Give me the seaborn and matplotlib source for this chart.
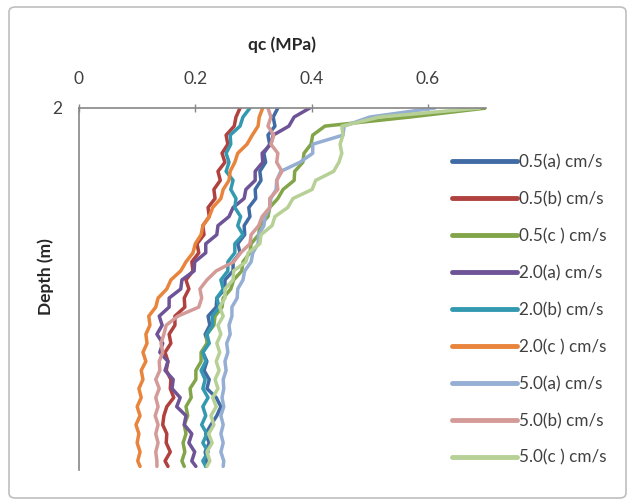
import numpy as np
import pandas as pd
import matplotlib
matplotlib.use("Agg")
import matplotlib.pyplot as plt
import seaborn as sns
from matplotlib.patches import FancyBboxPatch

# depth levels (m), shared by all tests
depth = [2.000, 2.025, 2.050, 2.075, 2.100, 2.125, 2.150, 2.175, 2.200, 2.225,
         2.250, 2.275, 2.300, 2.325, 2.350, 2.375, 2.400, 2.425, 2.450, 2.475,
         2.500, 2.525, 2.550, 2.575, 2.600, 2.625, 2.650, 2.675, 2.700, 2.725,
         2.750, 2.775, 2.800, 2.825, 2.850, 2.875, 2.900, 2.925, 2.950, 2.975, 2.990]

# cone resistance qc (MPa)
qc_05a = [0.342, 0.334, 0.337, 0.325, 0.328, 0.318, 0.321, 0.311, 0.313, 0.303,
          0.304, 0.292, 0.294, 0.284, 0.285, 0.273, 0.277, 0.265, 0.265, 0.251,
          0.251, 0.237, 0.236, 0.222, 0.225, 0.217, 0.222, 0.213, 0.220, 0.215,
          0.224, 0.220, 0.236, 0.244, 0.237, 0.227, 0.218, 0.224, 0.217, 0.220, 0.218]
qc_05b = [0.277, 0.270, 0.267, 0.253, 0.256, 0.246, 0.251, 0.239, 0.243, 0.232,
          0.234, 0.222, 0.224, 0.213, 0.215, 0.203, 0.206, 0.194, 0.196, 0.184,
          0.189, 0.181, 0.182, 0.165, 0.165, 0.155, 0.158, 0.148, 0.153, 0.150,
          0.158, 0.157, 0.163, 0.151, 0.146, 0.144, 0.151, 0.150, 0.157, 0.148, 0.153]
qc_05c = [0.701, 0.569, 0.423, 0.402, 0.399, 0.387, 0.385, 0.371, 0.370, 0.351,
          0.342, 0.328, 0.325, 0.311, 0.309, 0.296, 0.294, 0.282, 0.280, 0.266,
          0.261, 0.248, 0.246, 0.234, 0.232, 0.220, 0.220, 0.210, 0.210, 0.201,
          0.201, 0.191, 0.193, 0.184, 0.187, 0.181, 0.184, 0.179, 0.182, 0.177, 0.181]
qc_20a = [0.397, 0.370, 0.361, 0.334, 0.330, 0.315, 0.316, 0.303, 0.303, 0.287,
          0.284, 0.265, 0.258, 0.239, 0.237, 0.218, 0.218, 0.199, 0.198, 0.177,
          0.175, 0.155, 0.155, 0.138, 0.143, 0.134, 0.144, 0.139, 0.153, 0.148,
          0.162, 0.160, 0.174, 0.168, 0.184, 0.181, 0.194, 0.189, 0.199, 0.194, 0.201]
qc_20b = [0.294, 0.282, 0.277, 0.260, 0.261, 0.253, 0.258, 0.253, 0.265, 0.261,
          0.270, 0.268, 0.278, 0.273, 0.282, 0.268, 0.268, 0.256, 0.256, 0.244,
          0.248, 0.237, 0.241, 0.229, 0.230, 0.220, 0.224, 0.213, 0.218, 0.210,
          0.217, 0.213, 0.222, 0.213, 0.218, 0.211, 0.220, 0.213, 0.222, 0.213, 0.218]
qc_20c = [0.316, 0.310, 0.308, 0.298, 0.289, 0.273, 0.268, 0.260, 0.258, 0.248,
          0.244, 0.230, 0.224, 0.213, 0.210, 0.200, 0.196, 0.184, 0.175, 0.158,
          0.151, 0.136, 0.132, 0.120, 0.122, 0.115, 0.117, 0.110, 0.115, 0.107,
          0.110, 0.103, 0.107, 0.100, 0.105, 0.098, 0.103, 0.100, 0.105, 0.101, 0.105]
qc_50a = [0.612, 0.500, 0.456, 0.454, 0.402, 0.402, 0.380, 0.347, 0.340, 0.339,
          0.330, 0.328, 0.320, 0.318, 0.309, 0.308, 0.299, 0.296, 0.285, 0.282,
          0.273, 0.272, 0.263, 0.263, 0.258, 0.260, 0.254, 0.256, 0.251, 0.253,
          0.248, 0.249, 0.246, 0.249, 0.244, 0.248, 0.244, 0.248, 0.244, 0.249, 0.248]
qc_50b = [0.325, 0.330, 0.325, 0.335, 0.330, 0.342, 0.340, 0.349, 0.340, 0.342,
          0.328, 0.328, 0.315, 0.309, 0.296, 0.294, 0.278, 0.266, 0.236, 0.220,
          0.208, 0.211, 0.206, 0.170, 0.150, 0.146, 0.141, 0.144, 0.138, 0.139,
          0.132, 0.138, 0.132, 0.136, 0.131, 0.136, 0.132, 0.136, 0.132, 0.134, 0.134]
qc_50c = [0.689, 0.517, 0.452, 0.454, 0.449, 0.452, 0.447, 0.438, 0.407, 0.401,
          0.368, 0.359, 0.337, 0.332, 0.313, 0.311, 0.291, 0.287, 0.266, 0.265,
          0.251, 0.251, 0.242, 0.248, 0.239, 0.244, 0.237, 0.242, 0.236, 0.241,
          0.234, 0.239, 0.230, 0.236, 0.227, 0.232, 0.223, 0.229, 0.220, 0.225, 0.220]

series_names = ["0.5(a) cm/s", "0.5(b) cm/s", "0.5(c ) cm/s",
                "2.0(a) cm/s", "2.0(b) cm/s", "2.0(c ) cm/s",
                "5.0(a) cm/s", "5.0(b) cm/s", "5.0(c ) cm/s"]
series_values = [qc_05a, qc_05b, qc_05c, qc_20a, qc_20b, qc_20c, qc_50a, qc_50b, qc_50c]
colors = ["#416BA5", "#B0413E", "#83A54A", "#6E5496", "#3399B0",
          "#E8843C", "#95AED4", "#D49A98", "#B6D095"]

frames = []
for name, vals in zip(series_names, series_values):
    frames.append(pd.DataFrame({"qc": vals, "depth": depth, "series": name}))
df = pd.concat(frames, ignore_index=True)

sns.set_style("white")
plt.rcParams["font.family"] = ["Lato", "DejaVu Sans"]

fig = plt.figure(figsize=(6.34, 5.04), dpi=100)
ax = fig.add_axes([79 / 634, 1 - 470 / 504, 407 / 634, 362 / 504])

sns.lineplot(data=df, x="qc", y="depth", hue="series", hue_order=series_names,
             palette=colors, orient="y", estimator=None, linewidth=2.5, ax=ax)

ax.set_xlim(0, 0.7)
ax.set_ylim(3.0, 2.0)
ax.set_xticks([0, 0.2, 0.4, 0.6])
ax.set_xticklabels(["0", "0.2", "0.4", "0.6"])
ax.set_yticks([2])
ax.set_yticklabels(["2"])
ax.xaxis.tick_top()
ax.xaxis.set_label_position("top")
ax.tick_params(axis="x", direction="inout", length=6, width=1, color="#868686",
               labelsize=12.5, labelcolor="#404040", pad=12)
ax.tick_params(axis="y", direction="inout", length=6, width=1, color="#868686",
               labelsize=12.5, labelcolor="#404040", pad=9)
for side in ["bottom", "right"]:
    ax.spines[side].set_visible(False)
for side in ["top", "left"]:
    ax.spines[side].set_color("#868686")
    ax.spines[side].set_linewidth(1.2)

ax.set_xlabel("qc (MPa)", fontsize=12.5, fontweight="bold", labelpad=15)
ax.set_ylabel("Depth (m)", fontsize=12.5, fontweight="bold")
ax.yaxis.set_label_coords(-0.062, 0.533)

handles, labels = ax.get_legend_handles_labels()
ax.get_legend().remove()
leg = fig.legend(handles, labels, loc="center left",
                 bbox_to_anchor=(452 / 634, 1 - 310 / 504), frameon=False,
                 handlelength=3.8, handletextpad=0.1, labelspacing=1.22,
                 borderpad=0, borderaxespad=0, fontsize=12.3)
for line in leg.get_lines():
    line.set_linewidth(3.5)
for txt in leg.get_texts():
    txt.set_color("#404040")

fig.patches.append(FancyBboxPatch((9 / 634, 6 / 504), 617 / 634, 491 / 504,
                                  boxstyle="round,pad=0,rounding_size=0.01",
                                  transform=fig.transFigure, fill=False,
                                  ec="#BFBFBF", lw=1.2))

fig.savefig("out.png", dpi=100)
